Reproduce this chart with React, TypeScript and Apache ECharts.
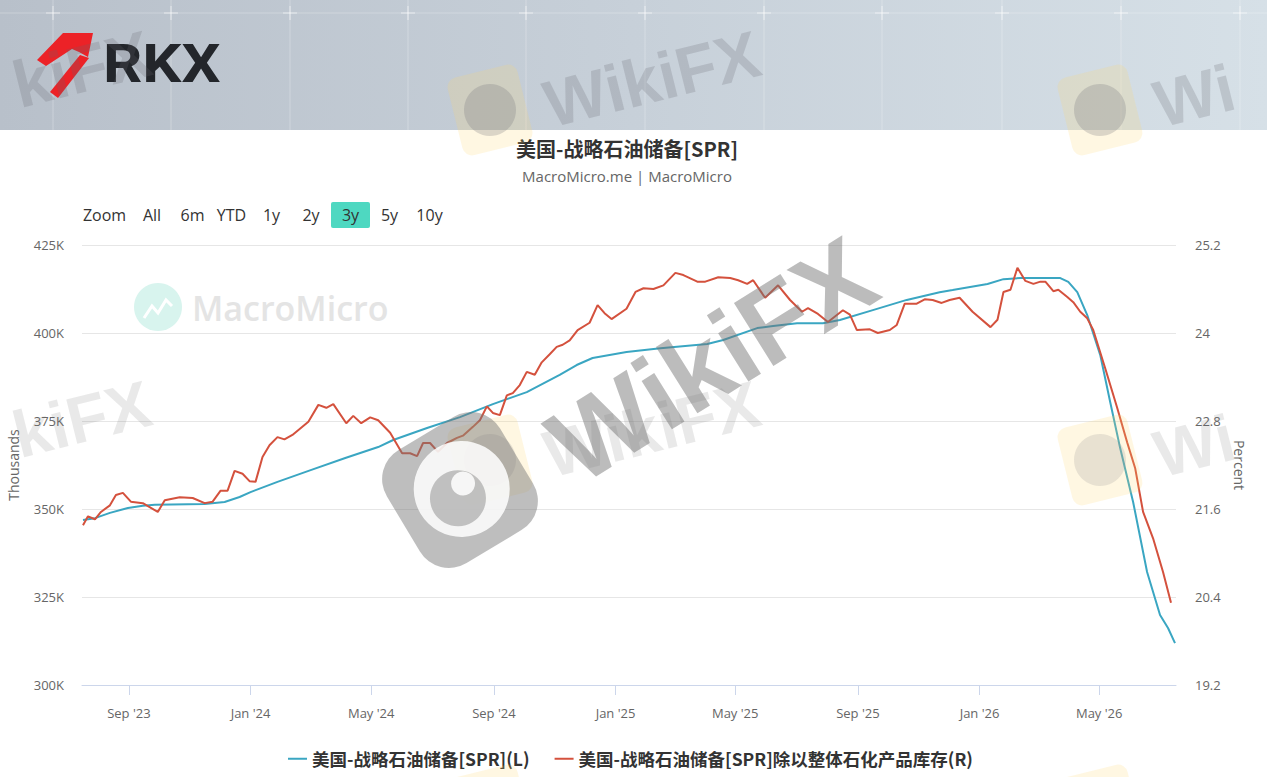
import React, { useEffect, useRef } from "react";
import * as echarts from "echarts";

const TITLE = "美国-战略石油储备[SPR]";
const SUBTITLE = "MacroMicro.me | MacroMicro";
const SERIES_NAMES = ["美国-战略石油储备[SPR](L)", "美国-战略石油储备[SPR]除以整体石化产品库存(R)"];
const RANGE_LABELS = ["Zoom", "All", "6m", "YTD", "1y", "2y", "3y", "5y", "10y"];
const ACTIVE_RANGE = "3y";
const X_TICK_DATES = ["2023-09-01", "2024-01-01", "2024-05-01", "2024-09-01", "2025-01-01", "2025-05-01", "2025-09-01", "2026-01-01", "2026-05-01"];
const MONTHS = ["Jan", "Feb", "Mar", "Apr", "May", "Jun", "Jul", "Aug", "Sep", "Oct", "Nov", "Dec"];
const X_MIN = "2023-07-16";
const X_MAX = "2026-07-17";
const LEFT_AXIS = { min: 300, max: 425, interval: 25, name: "Thousands" };
const RIGHT_AXIS = { min: 19.2, max: 25.2, interval: 1.2, name: "Percent" };

const sprDates = ["2023-07-17","2023-07-29","2023-08-13","2023-08-31","2023-09-15","2023-09-27","2023-11-16","2023-12-06","2023-12-21","2024-01-01","2024-01-28","2024-03-02","2024-04-05","2024-05-08","2024-05-23","2024-06-26","2024-07-29","2024-08-31","2024-10-04","2024-11-06","2024-11-23","2024-12-09","2025-01-12","2025-02-15","2025-04-03","2025-04-19","2025-05-23","2025-06-08","2025-07-02","2025-07-28","2025-08-14","2025-09-16","2025-10-20","2025-11-22","2025-12-05","2026-01-09","2026-01-25","2026-02-11","2026-03-23","2026-03-31","2026-04-09","2026-04-19","2026-05-02","2026-05-12","2026-05-22","2026-06-04","2026-06-18","2026-07-01","2026-07-09","2026-07-16"];
const sprValues = [346.9,347.4,348.9,350.3,350.9,351.2,351.4,352.0,353.4,354.8,357.7,361.1,364.5,367.6,369.6,373.0,376.1,379.8,383.2,388.1,390.9,392.9,394.6,395.7,396.9,398.0,401.4,402.0,402.8,402.8,403.7,406.5,409.4,411.6,412.2,413.9,415.3,415.6,415.6,414.5,411.6,405.1,393.8,380.4,367.3,352.0,332.1,319.9,316.2,311.9];

const ratioDates = ["2023-07-17","2023-07-22","2023-07-29","2023-08-04","2023-08-13","2023-08-19","2023-08-26","2023-09-03","2023-09-15","2023-09-30","2023-10-07","2023-10-22","2023-11-04","2023-11-16","2023-11-24","2023-12-02","2023-12-09","2023-12-16","2023-12-24","2023-12-31","2024-01-06","2024-01-13","2024-01-20","2024-01-28","2024-02-04","2024-02-12","2024-02-28","2024-03-09","2024-03-17","2024-03-24","2024-04-06","2024-04-13","2024-04-21","2024-04-30","2024-05-08","2024-05-20","2024-06-01","2024-06-09","2024-06-16","2024-06-22","2024-06-29","2024-07-07","2024-07-16","2024-07-26","2024-08-01","2024-08-11","2024-08-18","2024-08-25","2024-08-31","2024-09-07","2024-09-14","2024-09-20","2024-09-27","2024-10-04","2024-10-12","2024-10-19","2024-10-27","2024-11-03","2024-11-09","2024-11-16","2024-11-24","2024-12-06","2024-12-14","2024-12-21","2024-12-28","2025-01-12","2025-01-21","2025-01-29","2025-02-08","2025-02-18","2025-03-02","2025-03-10","2025-03-24","2025-04-01","2025-04-14","2025-04-26","2025-05-04","2025-05-13","2025-05-19","2025-05-31","2025-06-13","2025-06-25","2025-07-07","2025-07-13","2025-07-23","2025-08-02","2025-08-17","2025-08-24","2025-08-31","2025-09-13","2025-09-21","2025-10-03","2025-10-10","2025-10-18","2025-10-30","2025-11-07","2025-11-15","2025-11-24","2025-12-02","2025-12-12","2025-12-25","2026-01-12","2026-01-19","2026-01-25","2026-02-01","2026-02-08","2026-02-16","2026-02-24","2026-03-03","2026-03-08","2026-03-16","2026-03-21","2026-03-30","2026-04-05","2026-04-12","2026-04-19","2026-04-25","2026-05-07","2026-05-19","2026-05-29","2026-06-06","2026-06-14","2026-06-24","2026-07-04","2026-07-12"];
const ratioValues = [21.38,21.50,21.46,21.56,21.65,21.79,21.82,21.70,21.68,21.56,21.72,21.76,21.75,21.68,21.70,21.85,21.85,22.12,22.08,21.98,21.97,22.31,22.47,22.58,22.55,22.61,22.79,23.02,22.98,23.03,22.77,22.87,22.77,22.85,22.81,22.64,22.36,22.36,22.32,22.50,22.50,22.38,22.50,22.57,22.60,22.72,22.81,23.00,22.91,22.88,23.15,23.18,23.29,23.47,23.43,23.60,23.71,23.81,23.84,23.90,24.04,24.14,24.38,24.27,24.19,24.33,24.56,24.61,24.60,24.65,24.82,24.79,24.70,24.70,24.76,24.75,24.72,24.67,24.72,24.48,24.65,24.45,24.29,24.34,24.26,24.15,24.31,24.25,24.04,24.05,24.00,24.04,24.11,24.40,24.40,24.46,24.45,24.41,24.45,24.48,24.29,24.08,24.18,24.56,24.59,24.89,24.71,24.67,24.70,24.70,24.57,24.59,24.49,24.42,24.29,24.20,24.04,23.52,22.98,22.51,22.16,21.56,21.20,20.74,20.32];

const FONT = "'Open Sans', 'Noto Sans CJK SC', sans-serif";
const CJK_FONT = "'Noto Sans CJK SC', 'Open Sans', sans-serif";
const WM_FONT = "'Liberation Sans', sans-serif";
const BLUE = "#3aa6c2";
const RED = "#d4513d";

function ts(s: string): number {
  const [y, m, d] = s.split("-").map(Number);
  return new Date(y, m - 1, d).getTime();
}

function buildGraphics(): any[] {
  const els: any[] = [];
  // banner
  els.push({
    type: "rect", z: 1, shape: { x: 0, y: 0, width: 1267, height: 130 },
    style: { fill: new echarts.graphic.LinearGradient(0, 0, 1, 0, [
      { offset: 0, color: "#b8c0ca" }, { offset: 0.5, color: "#c7d0d9" }, { offset: 1, color: "#d6e0e7" }]) },
  });
  const vxs = [53, 171, 290, 408, 526, 645, 764, 882, 1002, 1121, 1240];
  vxs.forEach((x) => {
    els.push({ type: "line", z: 2, shape: { x1: x, y1: 0, x2: x, y2: 130 }, style: { stroke: "rgba(255,255,255,0.28)", lineWidth: 1 } });
    els.push({ type: "line", z: 2, shape: { x1: x - 7, y1: 13, x2: x + 7, y2: 13 }, style: { stroke: "rgba(255,255,255,0.6)", lineWidth: 1 } });
    els.push({ type: "line", z: 2, shape: { x1: x, y1: 6, x2: x, y2: 20 }, style: { stroke: "rgba(255,255,255,0.6)", lineWidth: 1 } });
  });
  els.push({ type: "line", z: 2, shape: { x1: 0, y1: 13, x2: 1267, y2: 13 }, style: { stroke: "rgba(255,255,255,0.25)", lineWidth: 1 } });
  // RKX logo
  els.push({ type: "polygon", z: 3, shape: { points: [[63, 33], [93, 33], [88, 57], [79, 52], [72, 49], [46, 66], [37, 60]] }, style: { fill: "#ec2227" } });
  els.push({ type: "polygon", z: 3, shape: { points: [[80, 55], [89, 58], [58, 98], [50, 92]] }, style: { fill: "#ec2227" } });
  els.push({ type: "text", z: 3, x: 103, y: 64, scaleX: 1.16, style: { text: "RKX", fontSize: 53, fontWeight: "bold", fontFamily: "Roboto, 'Liberation Sans', sans-serif", fill: "#23262b", textVerticalAlign: "middle" } });

  // title
  els.push({ type: "text", z: 5, x: 627, y: 148, style: { text: TITLE, fontSize: 20, fontWeight: "bold", fontFamily: CJK_FONT, fill: "#333333", textAlign: "center", textVerticalAlign: "middle" } });
  els.push({ type: "text", z: 5, x: 627, y: 176, style: { text: SUBTITLE, fontSize: 15, fontFamily: FONT, fill: "#666666", textAlign: "center", textVerticalAlign: "middle" } });

  // range selector
  const centers = [104.5, 152, 192.5, 231.5, 271.5, 311, 350.5, 389.5, 429.5];
  RANGE_LABELS.forEach((lab, i) => {
    if (lab === ACTIVE_RANGE) {
      els.push({ type: "rect", z: 5, shape: { x: centers[i] - 19.5, y: 202, width: 39, height: 26, r: 2 }, style: { fill: "#4ed8c1" } });
    }
    els.push({ type: "text", z: 6, x: centers[i], y: 215, style: { text: lab, fontSize: 16, fontFamily: FONT, fill: "#333333", textAlign: "center", textVerticalAlign: "middle" } });
  });

  // MacroMicro watermark
  els.push({ type: "circle", z: 0, shape: { cx: 158, cy: 307, r: 24 }, style: { fill: "#d8f4ee" } });
  els.push({ type: "polyline", z: 0, shape: { points: [[144, 318], [152, 306], [158, 313], [166, 300], [172, 306]] }, style: { stroke: "#ffffff", lineWidth: 3, fill: null } });
  els.push({ type: "text", z: 0, x: 192, y: 308, style: { text: "MacroMicro", fontSize: 34, fontWeight: 600, fontFamily: FONT, fill: "#e4e4e4", textVerticalAlign: "middle" } });

  // WikiFX tiles (only the parts that fall inside the picture)
  const tileXs = [-120, 490, 1100];
  const tileYs = [110, 460, 810];
  tileXs.forEach((tx, ci) => tileYs.forEach((ty, ri) => {
    const banner = ri === 0;
    const children: any[] = [
      { type: "rect", z: 90, shape: { x: -36, y: -40, width: 72, height: 80, r: 10 }, style: { fill: "rgba(255,215,110,0.2)" } },
      { type: "circle", z: 91, shape: { cx: 0, cy: 0, r: 26 }, style: { fill: banner ? "rgba(110,110,120,0.25)" : "rgba(150,150,150,0.22)" } },
    ];
    if (ri < 2) {
      const txt = ci === 0 ? "kiFX" : ci === 2 ? "Wi" : "WikiFX";
      const lx = ci === 0 ? 136 : 55;
      children.push({ type: "text", z: 91, x: lx, y: 42, style: { text: txt, fontSize: 66, fontWeight: "bold", fontFamily: WM_FONT, fill: banner ? "rgba(100,100,110,0.22)" : "rgba(110,110,110,0.15)", textVerticalAlign: "bottom" } });
    }
    els.push({ type: "group", x: tx, y: ty, rotation: (14 * Math.PI) / 180, z: 90, children });
  }));

  // central big watermark
  els.push({
    type: "group", x: 460, y: 490, rotation: (31 * Math.PI) / 180, z: 95,
    children: [
      { type: "rect", z: 95, shape: { x: -66, y: -66, width: 132, height: 132, r: 34 }, style: { fill: "rgba(120,120,120,0.48)" } },
      { type: "circle", z: 96, shape: { cx: 2, cy: 0, r: 48 }, style: { fill: "rgba(255,255,255,0.85)" } },
      { type: "circle", z: 97, shape: { cx: -6, cy: 6, r: 28 }, style: { fill: "rgba(120,120,120,0.42)" } },
      { type: "circle", z: 98, shape: { cx: 6, cy: -4, r: 12 }, style: { fill: "rgba(255,255,255,0.85)" } },
    ],
  });
  els.push({
    type: "text", z: 96, x: 560, y: 455, rotation: (32 * Math.PI) / 180,
    style: { text: "WikiFX", fontSize: 108, fontWeight: "bold", fontFamily: WM_FONT, fill: "rgba(115,115,115,0.48)", textVerticalAlign: "middle" },
  });
  return els;
}

export default function App() {
  const ref = useRef<HTMLDivElement>(null);
  useEffect(() => {
    document.body.style.margin = "0";
    if (!ref.current) return;
    const chart = echarts.init(ref.current, undefined, { renderer: "svg" });
    const tickTs = X_TICK_DATES.map(ts);
    const option: any = {
      animation: false,
      backgroundColor: "#ffffff",
      textStyle: { fontFamily: FONT },
      grid: { left: 82, right: 91, top: 245, bottom: 92, containLabel: false, outerBoundsMode: "none" },
      legend: {
        top: 745, left: 283, icon: "rect", itemWidth: 19, itemHeight: 2, itemGap: 25,
        data: SERIES_NAMES,
        textStyle: { fontSize: 17.5, fontWeight: "bold", color: "#333333", fontFamily: CJK_FONT },
      },
      xAxis: {
        type: "value", min: ts(X_MIN), max: ts(X_MAX),
        axisLine: { show: true, lineStyle: { color: "#ccd6eb" } },
        axisTick: { show: true, length: 10, lineStyle: { color: "#ccd6eb" }, customValues: tickTs },
        axisLabel: {
          customValues: tickTs, color: "#666666", fontSize: 13, margin: 21, fontFamily: FONT,
          formatter: (v: number) => { const d = new Date(v); return MONTHS[d.getMonth()] + " '" + String(d.getFullYear()).slice(2); },
        },
        splitLine: { show: false },
      },
      yAxis: [
        {
          type: "value", min: LEFT_AXIS.min, max: LEFT_AXIS.max, interval: LEFT_AXIS.interval, position: "left",
          name: LEFT_AXIS.name, nameLocation: "middle", nameGap: 62, nameRotate: 90,
          nameTextStyle: { color: "#666666", fontSize: 14, fontFamily: FONT },
          axisLine: { show: false }, axisTick: { show: false },
          axisLabel: { color: "#666666", fontSize: 13, margin: 18, formatter: (v: number) => v + "K" },
          splitLine: { show: true, lineStyle: { color: "#e6e6e6" } },
        },
        {
          type: "value", min: RIGHT_AXIS.min, max: RIGHT_AXIS.max, interval: RIGHT_AXIS.interval, position: "right",
          name: RIGHT_AXIS.name, nameLocation: "middle", nameGap: 57, nameRotate: -90,
          nameTextStyle: { color: "#666666", fontSize: 14, fontFamily: FONT },
          axisLine: { show: false }, axisTick: { show: false },
          axisLabel: { color: "#666666", fontSize: 13, margin: 19, formatter: (v: number) => String(Math.round(v * 10) / 10) },
          splitLine: { show: false },
        },
      ],
      series: [
        {
          name: SERIES_NAMES[0], type: "line", yAxisIndex: 0, symbol: "none", showSymbol: false, z: 3,
          lineStyle: { color: BLUE, width: 2 }, itemStyle: { color: BLUE },
          data: sprDates.map((d, i) => [ts(d), sprValues[i]]),
        },
        {
          name: SERIES_NAMES[1], type: "line", yAxisIndex: 1, symbol: "none", showSymbol: false, z: 4,
          lineStyle: { color: RED, width: 2 }, itemStyle: { color: RED },
          data: ratioDates.map((d, i) => [ts(d), ratioValues[i]]),
        },
      ],
      graphic: { elements: buildGraphics() },
    };
    chart.setOption(option);
    return () => chart.dispose();
  }, []);
  return <div ref={ref} style={{ width: 1267, height: 777 }} />;
}
